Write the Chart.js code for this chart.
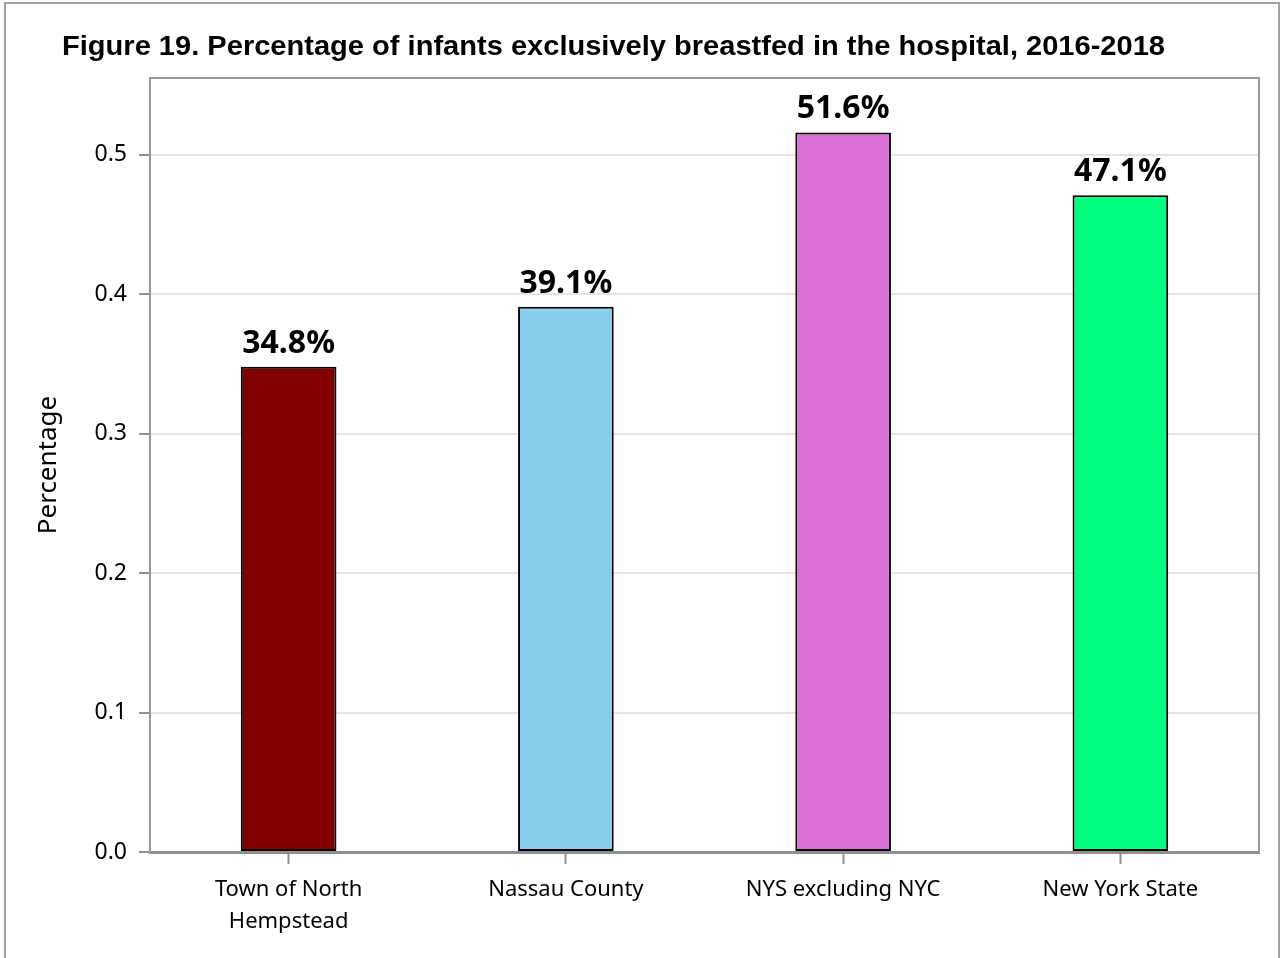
<!DOCTYPE html>
<html>
<head>
<meta charset="utf-8">
<script src="https://cdn.jsdelivr.net/npm/chart.js@4.4.1/dist/chart.umd.min.js"></script>
<style>
  html, body { margin: 0; padding: 0; background: #fff; }
  #wrap { width: 1283px; height: 958px; position: relative; }
</style>
</head>
<body>
<div id="wrap"><canvas id="chart" width="1283" height="958"></canvas></div>
<script>
var titleText = 'Figure 19. Percentage of infants exclusively breastfed in the hospital, 2016-2018';
var categories = [['Town of North', 'Hempstead'], 'Nassau County', 'NYS excluding NYC', 'New York State'];
var values = [0.348, 0.391, 0.516, 0.471];
var barColors = ['#800000', '#87CEEB', '#DA70D6', '#00FF7F'];
var yTicks = [0, 0.1, 0.2, 0.3, 0.4, 0.5];

// frame, plot border and title
var framePlugin = {
  id: 'frame',
  beforeDraw: function(chart) {
    var ctx = chart.ctx;
    ctx.save();
    ctx.fillStyle = '#fff';
    ctx.fillRect(0, 0, chart.width, chart.height);
    ctx.strokeStyle = '#a0a0a0';
    ctx.lineWidth = 2;
    ctx.strokeRect(5, 3, chart.width - 9, chart.height + 10);
    ctx.fillStyle = '#000';
    ctx.font = 'bold 27px "Liberation Sans", Arial, sans-serif';
    ctx.textBaseline = 'alphabetic';
    // reference title is a bit wider than Arial, stretch to fit
    var w = ctx.measureText(titleText).width;
    ctx.translate(62, 55);
    ctx.scale(1103 / w, 1);
    ctx.fillText(titleText, 0, 0);
    ctx.restore();
  },
  afterDraw: function(chart) {
    var a = chart.chartArea, ctx = chart.ctx;
    ctx.save();
    ctx.strokeStyle = '#999';
    ctx.lineWidth = 2;
    ctx.beginPath();
    ctx.moveTo(a.left, a.bottom);
    ctx.lineTo(a.left, a.top);
    ctx.lineTo(a.right, a.top);
    ctx.lineTo(a.right, a.bottom);
    ctx.stroke();
    ctx.restore();
  }
};

var labelPlugin = {
  id: 'barLabels',
  afterDatasetsDraw: function(chart) {
    var ctx = chart.ctx;
    var meta = chart.getDatasetMeta(0);
    ctx.save();
    ctx.fillStyle = '#000';
    ctx.font = 'bold 32px "Noto Sans", sans-serif';
    ctx.textAlign = 'center';
    ctx.textBaseline = 'alphabetic';
    meta.data.forEach(function(bar, i) {
      ctx.fillText((values[i] * 100).toFixed(1) + '%', bar.x, bar.y - 14);
    });
    ctx.restore();
  }
};

new Chart(document.getElementById('chart'), {
  type: 'bar',
  data: {
    labels: categories,
    datasets: [{
      data: values,
      backgroundColor: barColors,
      borderColor: '#000',
      borderWidth: 2,
      borderSkipped: false,
      categoryPercentage: 1,
      barPercentage: 0.345
    }]
  },
  options: {
    responsive: false,
    animation: false,
    devicePixelRatio: 1,
    layout: { padding: { top: 78, right: 24, left: 0, bottom: 0 } },
    plugins: {
      legend: { display: false },
      tooltip: { enabled: false },
      title: { display: false }
    },
    scales: {
      x: {
        grid: { display: true, drawOnChartArea: false, offset: false, tickLength: 12, tickColor: '#909090', tickWidth: 2 },
        border: { color: '#909090', width: 3 },
        ticks: { color: '#000', font: { family: '"Noto Sans", sans-serif', size: 22, lineHeight: 1.45 }, padding: 10, maxRotation: 0 },
        afterFit: function(scale) { scale.height = 106; }
      },
      y: {
        min: 0,
        max: 0.555,
        afterBuildTicks: function(scale) {
          scale.ticks = yTicks.map(function(v) { return { value: v }; });
        },
        grid: { color: '#e4e4e4', lineWidth: 2, tickLength: 11, tickColor: '#909090', tickWidth: 2 },
        border: { color: '#999', width: 2 },
        ticks: {
          color: '#000',
          padding: 12,
          font: { family: '"Noto Sans", sans-serif', size: 23 },
          callback: function(v) { return v.toFixed(1); }
        },
        title: {
          display: true,
          text: 'Percentage',
          color: '#000',
          font: { family: '"Noto Sans", sans-serif', size: 26 },
          padding: { top: 33, bottom: 0 }
        },
        afterFit: function(scale) { scale.width = 150; }
      }
    }
  },
  plugins: [framePlugin, labelPlugin]
});
</script>
</body>
</html>
